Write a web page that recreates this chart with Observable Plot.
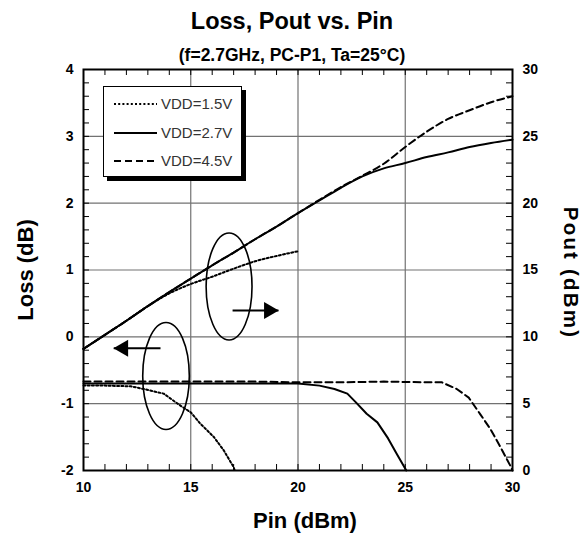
<!DOCTYPE html>
<html><head><meta charset="utf-8">
<script src="https://cdn.jsdelivr.net/npm/d3@7"></script>
<script src="https://cdn.jsdelivr.net/npm/@observablehq/plot@0.6"></script>
<style>
body{margin:0;background:#fff;font-family:"Liberation Sans",Arial,sans-serif;}
#wrap{position:relative;width:584px;height:533px;overflow:hidden;}
#title{position:absolute;left:0;width:584px;top:6px;text-align:center;font-weight:bold;font-size:23.5px;line-height:30px;}
#subtitle{position:absolute;left:0;width:584px;top:44px;text-align:center;font-weight:bold;font-size:17.5px;line-height:22px;}
#chart{position:absolute;left:0;top:62px;}
#legend{position:absolute;left:103px;top:86px;width:137px;height:89px;border:1px solid #000;background:#fff;box-shadow:4px 4px 0 #000;}
.row{position:absolute;left:0;width:137px;height:20px;}
.row svg{position:absolute;left:9px;top:0;}
.row span{position:absolute;left:57px;top:1px;font-size:15px;line-height:18px;color:#333;}
</style></head>
<body>
<div id="wrap">
  <div id="title">Loss, Pout vs. Pin</div>
  <div id="subtitle">(f=2.7GHz, PC-P1, Ta=25°C)</div>
  <div id="chart"></div>
  <div id="legend"></div>
</div>
<script>
// ---- data ----
const pinPout = [10,11,12,13,14,15,16,17,18,19,20,21,22,23,24,25,26,27,28,29,30];
const pout27 = [9.1,10.15,11.2,12.3,13.35,14.35,15.35,16.3,17.3,18.25,19.25,20.2,21.15,22.0,22.6,23.0,23.45,23.8,24.2,24.5,24.75];
const pout45 = [9.1,10.15,11.2,12.3,13.35,14.35,15.35,16.3,17.3,18.25,19.25,20.25,21.2,22.05,22.95,24.2,25.35,26.3,26.95,27.55,28.0];
const pinPout15 = [10,11,12,13,14,15,16,17,18,19,20];
const pout15 = [9.1,10.15,11.2,12.3,13.25,13.95,14.5,15.1,15.65,16.05,16.4];

const pinLoss27 = [10,12,14,16,18,20,21,21.7,22.3,22.7,23.2,23.7,24.2,24.6,25.05];
const loss27 = [-0.70,-0.70,-0.70,-0.70,-0.70,-0.70,-0.73,-0.78,-0.85,-0.98,-1.15,-1.28,-1.52,-1.75,-2.0];
const pinLoss45 = [10,12,14,16,18,20,22,24,26,26.7,27.4,27.96,28.5,28.97,29.44,29.9,30];
const loss45 = [-0.67,-0.67,-0.67,-0.67,-0.67,-0.68,-0.68,-0.67,-0.68,-0.68,-0.78,-0.91,-1.16,-1.38,-1.65,-1.93,-2.0];
const pinLoss15 = [10,11,12.2,12.8,13.74,14.52,15.0,15.45,16.08,16.54,17.0,17.05];
const loss15 = [-0.73,-0.73,-0.74,-0.78,-0.85,-1.03,-1.13,-1.30,-1.50,-1.70,-1.95,-2.0];

const xTicks = [10,15,20,25,30];
const lossTicks = [-2,-1,0,1,2,3,4];
const poutTickLabels = ["0","5","10","15","20","25","30"];
const seriesNames = ["VDD=1.5V","VDD=2.7V","VDD=4.5V"];

// annotations (data coordinates)
const ellipses = [{pin:16.81, loss:0.746, rPin:1.07, rLoss:0.80},{pin:13.87, loss:-0.593, rPin:1.086, rLoss:0.80}];
const arrowR = {pin1:16.95, pin2:19.09, loss:0.394};
const arrowL = {pin1:13.59, pin2:11.41, loss:-0.17};

// ---- helpers ----
const toLoss = p => p/5 - 2;
const dashes = ["2,2.2", null, "7,4"];
const ns = "http://www.w3.org/2000/svg";
function ellipseMark(e){
  return (index, scales) => {
    const cx = scales.x(e.pin), cy = scales.y(e.loss);
    const rx = Math.abs(scales.x(e.pin + e.rPin) - cx);
    const ry = Math.abs(scales.y(e.loss + e.rLoss) - cy);
    const el = document.createElementNS(ns, "ellipse");
    el.setAttribute("cx", cx); el.setAttribute("cy", cy);
    el.setAttribute("rx", rx); el.setAttribute("ry", ry);
    el.setAttribute("fill", "none"); el.setAttribute("stroke", "black"); el.setAttribute("stroke-width", "1.6");
    return el;
  };
}
const H = 401, W = 429;
const xMinor = d3.range(11, 30);
const yMinor = d3.range(-1.8, 3.9, 0.2);
const gridStyle = {stroke:"#727272", strokeOpacity:1, strokeWidth:1.2};
const font = '"Liberation Sans", Arial, sans-serif';

const chart = Plot.plot({
  width: 584, height: 471,
  marginTop: 7, marginBottom: 63, marginLeft: 83, marginRight: 72,
  x: {domain: [10,30]},
  y: {domain: [-2,4]},
  style: {fontFamily: font, fontWeight: "bold", fontSize: "14px", color: "black", background: "none", overflow: "visible"},
  marks: [
    Plot.gridX([15,20,25], gridStyle),
    Plot.gridY([-1,0,1,2,3], gridStyle),
    Plot.ruleX(xMinor, {x: d => d, insetBottom: H - 6, stroke: "black", strokeWidth: 1}),
    Plot.ruleX(xMinor, {x: d => d, insetTop: H - 6, stroke: "black", strokeWidth: 1}),
    Plot.ruleY(yMinor, {y: d => d, insetRight: W - 6, stroke: "black", strokeWidth: 1}),
    Plot.ruleY(yMinor, {y: d => d, insetLeft: W - 6, stroke: "black", strokeWidth: 1}),
    // Pout curves (right axis)
    Plot.line(pinPout15, {x: pinPout15, y: pout15.map(toLoss), stroke: "black", strokeWidth: 2, strokeDasharray: dashes[0], curve: "monotone-x"}),
    Plot.line(pinPout, {x: pinPout, y: pout45.map(toLoss), stroke: "black", strokeWidth: 2, strokeDasharray: dashes[2], curve: "monotone-x"}),
    Plot.line(pinPout, {x: pinPout, y: pout27.map(toLoss), stroke: "black", strokeWidth: 2, curve: "monotone-x"}),
    // Loss curves (left axis)
    Plot.line(pinLoss15, {x: pinLoss15, y: loss15, stroke: "black", strokeWidth: 2, strokeDasharray: dashes[0]}),
    Plot.line(pinLoss45, {x: pinLoss45, y: loss45, stroke: "black", strokeWidth: 2, strokeDasharray: dashes[2]}),
    Plot.line(pinLoss27, {x: pinLoss27, y: loss27, stroke: "black", strokeWidth: 2}),
    // annotations
    ellipseMark(ellipses[0]),
    ellipseMark(ellipses[1]),
    Plot.link([arrowR, arrowL], {x1: "pin1", x2: "pin2", y1: "loss", y2: "loss", stroke: "black", strokeWidth: 2}),
    Plot.dot([arrowR], {x: "pin2", y: "loss", symbol: "triangle", r: 6.3, fill: "black", stroke: "none", rotate: 90, dx: -9.5}),
    Plot.dot([arrowL], {x: "pin2", y: "loss", symbol: "triangle", r: 6.3, fill: "black", stroke: "none", rotate: -90, dx: 9.5}),
    Plot.frame({stroke: "black", strokeWidth: 2}),
    // axes
    Plot.axisX({ticks: xTicks, tickSize: 0, tickPadding: 12, tickFormat: d => String(d), label: null, fontSize: 14, fontWeight: "bold"}),
    Plot.axisY({anchor: "left", ticks: lossTicks, tickSize: 0, tickPadding: 10, tickFormat: d => String(d), label: null, fontSize: 14, fontWeight: "bold"}),
    Plot.axisY({anchor: "right", ticks: lossTicks, tickSize: 0, tickPadding: 10, tickFormat: d => poutTickLabels[lossTicks.indexOf(d)], label: null, fontSize: 14, fontWeight: "bold"}),
    Plot.text(["Loss (dB)"], {text: d => d, frameAnchor: "left", dx: -58, rotate: -90, textAnchor: "middle", lineAnchor: "middle", fontSize: 22, fontWeight: "bold"}),
    Plot.text(["Pout (dBm)"], {text: d => d, frameAnchor: "right", dx: 58, dy: 3, rotate: 90, textAnchor: "middle", lineAnchor: "middle", fontSize: 20.5, fontWeight: "bold"}),
    Plot.text(["Pin (dBm)"], {text: d => d, frameAnchor: "bottom", dx: 7, dy: 50, textAnchor: "middle", lineAnchor: "middle", fontSize: 22, fontWeight: "bold"})
  ]
});
d3.select(chart).selectAll("text").filter(function(){ return this.textContent === "Pout (dBm)"; }).attr("letter-spacing", "2.2px");
document.getElementById("chart").appendChild(chart);

// legend
const legend = document.getElementById("legend");
const rowTops = [7, 36, 64];
seriesNames.forEach((name, i) => {
  const row = document.createElement("div");
  row.className = "row";
  row.style.top = rowTops[i] + "px";
  const dash = dashes[i] ? ` stroke-dasharray="${dashes[i]}"` : "";
  row.innerHTML = `<svg width="46" height="20"><line x1="1" x2="44" y1="10" y2="10" stroke="black" stroke-width="2"${dash}/></svg><span>${name}</span>`;
  legend.appendChild(row);
});
</script>
</body></html>
